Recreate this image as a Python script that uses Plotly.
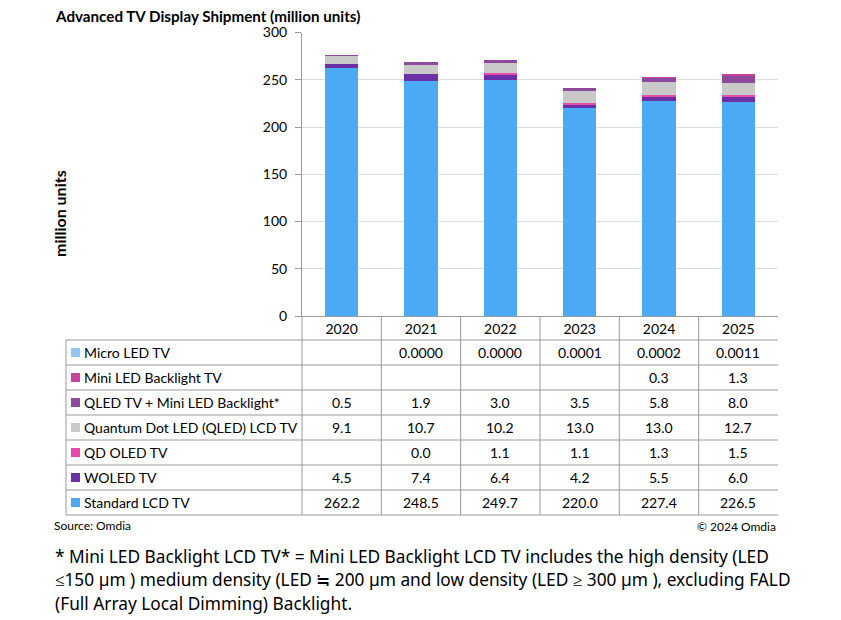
import plotly.graph_objects as go

# --- Data ---
years = ["2020", "2021", "2022", "2023", "2024", "2025"]

standard_lcd = [262.2, 248.5, 249.7, 220.0, 227.4, 226.5]
woled = [4.5, 7.4, 6.4, 4.2, 5.5, 6.0]
qd_oled = [None, 0.0, 1.1, 1.1, 1.3, 1.5]
qled = [9.1, 10.7, 10.2, 13.0, 13.0, 12.7]
qled_mini = [0.5, 1.9, 3.0, 3.5, 5.8, 8.0]
mini_led = [None, None, None, None, 0.3, 1.3]
micro_led = [None, 0.0000, 0.0000, 0.0001, 0.0002, 0.0011]

# stacking order, bottom to top: (name, values, colour, number format)
series = [
    ("Standard LCD TV", standard_lcd, "#4BA9F5", "{:.1f}"),
    ("WOLED TV", woled, "#6B2FA6", "{:.1f}"),
    ("QD OLED TV", qd_oled, "#E64BAA", "{:.1f}"),
    ("Quantum Dot LED (QLED) LCD TV", qled, "#C9C9C9", "{:.1f}"),
    ("QLED TV + Mini LED Backlight*", qled_mini, "#8D4A9C", "{:.1f}"),
    ("Mini LED Backlight TV", mini_led, "#C8419A", "{:.1f}"),
    ("Micro LED TV", micro_led, "#93C4F2", "{:.4f}"),
]

W, H = 841, 620
OFF = 8  # page body margin
FONT = "Lato"
LINE = "#9A9A9A"

def px(x):
    return (x - OFF) / W

def py(y):
    return 1 - (y - OFF) / H

fig = go.Figure()
for name, vals, color, _ in series:
    fig.add_trace(go.Bar(
        x=list(range(len(years))), y=[v if v is not None else 0 for v in vals],
        name=name, marker=dict(color=color, line=dict(width=0)),
        hoverinfo="skip", showlegend=False,
    ))

shapes = []
annotations = []

# --- Data table under the chart ---
row_h = 25
table_top = 340
for i, (name, vals, color, fmt) in enumerate(reversed(series)):
    y0 = table_top + i * row_h
    yc = y0 + row_h / 2
    # legend swatch
    shapes.append(dict(type="rect", xref="paper", yref="paper",
                       x0=px(71), x1=px(80), y0=py(yc - 4.5), y1=py(yc + 4.5),
                       fillcolor=color, line=dict(width=0)))
    annotations.append(dict(text=name, xref="paper", yref="paper",
                            x=px(82), y=py(yc), xanchor="left", yanchor="middle",
                            showarrow=False, font=dict(size=14, color="#000")))
    for j, v in enumerate(vals):
        if v is None:
            continue
        annotations.append(dict(text=fmt.format(v), xref="x", yref="paper",
                                x=j, y=py(yc), xanchor="center", yanchor="middle",
                                showarrow=False, font=dict(size=14, color="#000")))

n_rows = len(series)
table_bottom = table_top + n_rows * row_h
for i in range(n_rows + 1):
    yy = table_top + i * row_h
    shapes.append(dict(type="line", xref="paper", yref="paper",
                       x0=px(66), x1=px(778), y0=py(yy), y1=py(yy),
                       line=dict(color=LINE, width=1)))
# left border and label column border
shapes.append(dict(type="line", xref="paper", yref="paper",
                   x0=px(66), x1=px(66), y0=py(table_top), y1=py(table_bottom),
                   line=dict(color=LINE, width=1)))
shapes.append(dict(type="line", xref="paper", yref="paper",
                   x0=px(302), x1=px(302), y0=py(316), y1=py(table_bottom),
                   line=dict(color=LINE, width=1)))
# column separators between years
for k in range(1, len(years)):
    shapes.append(dict(type="line", xref="x", yref="paper",
                       x0=k - 0.5, x1=k - 0.5, y0=py(316), y1=py(table_bottom),
                       line=dict(color=LINE, width=1)))

# --- Texts ---
annotations += [
    dict(text="<b>Advanced TV Display Shipment (million units)</b>", xref="paper", yref="paper",
         x=px(54), y=py(16.5), xanchor="left", yanchor="middle", showarrow=False, borderpad=0,
         font=dict(size=15.2, color="#000")),
    dict(text="<b>million units</b>", xref="paper", yref="paper", textangle=-90,
         x=px(59), y=py(214), xanchor="center", yanchor="middle", showarrow=False,
         font=dict(size=16, color="#000")),
    dict(text="Source: Omdia", xref="paper", yref="paper",
         x=px(52), y=py(525), xanchor="left", yanchor="middle", showarrow=False,
         font=dict(size=12, color="#000")),
    dict(text="© 2024 Omdia", xref="paper", yref="paper",
         x=px(778), y=py(526), xanchor="right", yanchor="middle", showarrow=False,
         font=dict(size=12, color="#000")),
]
footnote = [
    "* Mini LED Backlight LCD TV* = Mini LED Backlight LCD TV includes the high density (LED",
    "≤150 µm ) medium density (LED ≒ 200 µm and low density (LED ≥ 300 µm ), excluding FALD",
    "(Full Array Local Dimming) Backlight.",
]
for i, line in enumerate(footnote):
    annotations.append(dict(text=line, xref="paper", yref="paper",
                            x=px(53), y=py(556 + i * 23.5), xanchor="left", yanchor="middle",
                            showarrow=False, font=dict(size=17.3, family="Noto Sans", color="#000")))

fig.update_layout(
    width=W, height=H,
    margin=dict(l=0, r=0, t=0, b=0, autoexpand=False),
    paper_bgcolor="white", plot_bgcolor="white",
    font=dict(family=FONT, color="#000"),
    barmode="stack", bargap=0.58,
    hovermode=False,
    xaxis=dict(domain=[px(302), px(778)], range=[-0.5, 5.5],
               tickmode="array", tickvals=list(range(len(years))), ticktext=years,
               showline=True, linecolor=LINE, linewidth=1, ticks="",
               tickfont=dict(size=14), showgrid=False, zeroline=False,
               automargin=False, fixedrange=True),
    yaxis=dict(domain=[py(316), py(32.5)], range=[0, 300], dtick=50,
               showline=True, linecolor=LINE, linewidth=1,
               ticks="outside", ticklen=6, tickcolor=LINE, ticklabelstandoff=5,
               tickfont=dict(size=14), showgrid=True, gridcolor="#DEDEDE",
               zeroline=False, automargin=False, fixedrange=True),
    shapes=shapes,
    annotations=annotations,
)

fig.write_html("out.html")
